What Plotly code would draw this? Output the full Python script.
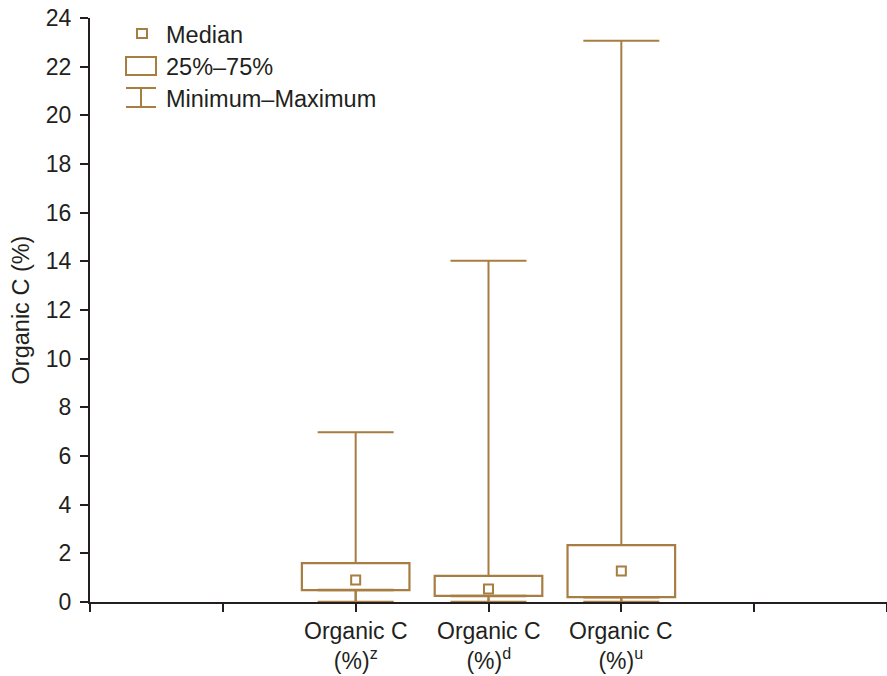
import plotly.graph_objects as go

# category slots (0..6), boxes sit on 2, 3, 4
positions = [2, 3, 4]
tick_vals = [0, 1, 2, 3, 4, 5, 6]
cat_labels = ["Organic C<br>(%)<sup>z</sup>", "Organic C<br>(%)<sup>d</sup>", "Organic C<br>(%)<sup>u</sup>"]

q1 = [0.49, 0.25, 0.20]
median = [0.90, 0.53, 1.27]
q3 = [1.60, 1.07, 2.34]
minimum = [0.0, 0.0, 0.0]
maximum = [6.98, 14.02, 23.06]

brown = "#a77d42"
ink = "#231f20"
font = "Liberation Sans, Arial, sans-serif"

W, H = 887, 676
L, R, T, B = 90, 0, 18, 74


def px(x):
    # screen pixel -> paper x
    return (x - L) / (W - L - R)


def py(y):
    # screen pixel -> paper y
    return (H - B - y) / (H - B - T)


fig = go.Figure()

# upper whiskers q3 -> max
fig.add_trace(go.Scatter(
    x=positions, y=q3, mode="markers", marker=dict(size=0.1, color=brown),
    error_y=dict(type="data", symmetric=False,
                 array=[m - q for m, q in zip(maximum, q3)],
                 arrayminus=[0, 0, 0], color=brown, thickness=2, width=38),
    showlegend=False, hoverinfo="skip"
))
# lower whiskers q1 -> min
fig.add_trace(go.Scatter(
    x=positions, y=q1, mode="markers", marker=dict(size=0.1, color=brown),
    error_y=dict(type="data", symmetric=False,
                 array=[0, 0, 0],
                 arrayminus=[q - m for q, m in zip(q1, minimum)],
                 color=brown, thickness=2.5, width=38),
    showlegend=False, hoverinfo="skip"
))

# boxes
fig.add_trace(go.Bar(
    x=positions, y=[b - a for a, b in zip(q1, q3)], base=q1, width=0.81,
    marker=dict(color="rgba(255,255,255,0)", line=dict(color=brown, width=2.2)),
    showlegend=False, hoverinfo="skip"
))

# medians
fig.add_trace(go.Scatter(
    x=positions, y=median, mode="markers",
    marker=dict(symbol="square-open", size=9, color=brown, line=dict(width=2)),
    showlegend=False
))

# hand-drawn legend
shapes = [
    dict(type="rect", xref="paper", yref="paper", x0=px(137), x1=px(147), y0=py(38), y1=py(29),
         line=dict(color=brown, width=2)),
    dict(type="rect", xref="paper", yref="paper", x0=px(126), x1=px(156), y0=py(75), y1=py(57),
         line=dict(color=brown, width=2)),
    dict(type="line", xref="paper", yref="paper", x0=px(126), x1=px(156), y0=py(88), y1=py(88),
         line=dict(color=brown, width=2)),
    dict(type="line", xref="paper", yref="paper", x0=px(126), x1=px(156), y0=py(107), y1=py(107),
         line=dict(color=brown, width=2)),
    dict(type="line", xref="paper", yref="paper", x0=px(141), x1=px(141), y0=py(88), y1=py(107),
         line=dict(color=brown, width=2)),
]
annotations = []
for label, yy in [("Median", 35), ("25%–75%", 67), ("Minimum–Maximum", 99)]:
    annotations.append(dict(x=px(164), y=py(yy), xref="paper", yref="paper", text=label,
                            showarrow=False, xanchor="left", yanchor="middle",
                            font=dict(size=23.5, color=ink, family=font)))

# two-line category labels under the boxes
for xpos, lab in zip(positions, cat_labels):
    annotations.append(dict(x=xpos, y=py(646), xref="x", yref="paper", text=lab,
                            showarrow=False, xanchor="center", yanchor="middle",
                            font=dict(size=23, color=ink, family=font)))

fig.update_layout(
    width=W, height=H,
    margin=dict(l=L, r=R, t=T, b=B, autoexpand=False),
    plot_bgcolor="white", paper_bgcolor="white",
    font=dict(family=font, size=23, color=ink),
    shapes=shapes, annotations=annotations,
    showlegend=False,
    xaxis=dict(range=[0, 6], tickvals=tick_vals, showticklabels=False, automargin=False,
               showgrid=False, zeroline=False, showline=True, linecolor=ink, linewidth=2,
               ticks="outside", ticklen=8, tickwidth=2, tickcolor=ink, layer="below traces"),
    yaxis=dict(range=[0, 24], dtick=2, showgrid=False, zeroline=False, automargin=False,
               showline=True, linecolor=ink, linewidth=2,
               ticks="outside", ticklen=8, tickwidth=2, tickcolor=ink,
               tickfont=dict(size=23), ticklabelstandoff=4, ticklabeloverflow="allow",
               title=dict(text="Organic C (%)", font=dict(size=23.5), standoff=10)),
)

# drop the page's default 8px body margin so the figure fills the window
fig.write_html("out.html", config={"displayModeBar": False},
               post_script="document.body.style.margin='0';document.body.style.overflow='hidden';")
